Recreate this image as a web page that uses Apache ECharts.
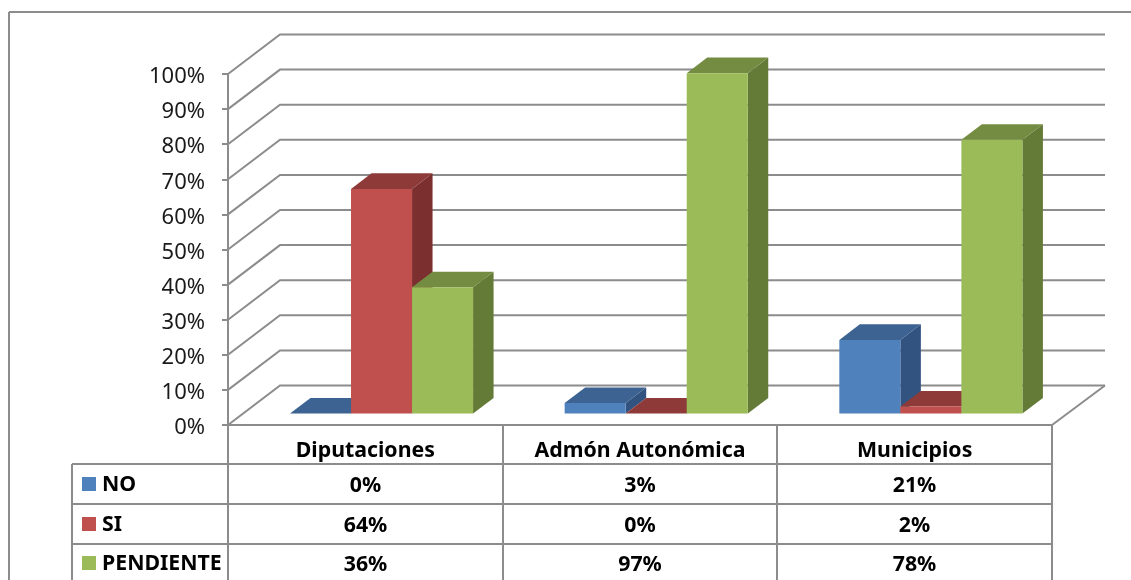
<!DOCTYPE html>
<html>
<head>
<meta charset="utf-8">
<style>html,body{margin:0;padding:0;background:#fff;overflow:hidden}#c{width:1131px;height:580px}</style>
<script src="https://cdn.jsdelivr.net/npm/echarts@6/dist/echarts.min.js"></script>
</head>
<body>
<div id="c"></div>
<script>
const categories = ['Diputaciones', 'Admón Autonómica', 'Municipios'];
const seriesNames = ['NO', 'SI', 'PENDIENTE'];
const NO = [0, 3, 21];
const SI = [64, 0, 2];
const PENDIENTE = [36, 97, 78];
const gridTicks = [0, 10, 20, 30, 40, 50, 60, 70, 80, 90, 100];

const allSeries = [NO, SI, PENDIENTE];
const frontColors = ['#4F81BD', '#C0504D', '#9BBB59'];
const topColors = ['#3C6391', '#8E3A38', '#738C42'];
const sideColors = ['#325280', '#7B2F2E', '#647A37'];

const FONT = '"Noto Sans", sans-serif';
const GRID_COLOR = '#8C8C8C';
const DEPTH_X = 52, DEPTH_Y = 39.5;
const BAR_FRONT_X = 16.2, BAR_FRONT_Y = 11.4;
const BAR_DEPTH_X = 20.5, BAR_DEPTH_Y = 15.6;
const GL = 228, GR = 1052, GT = 74, GB = 425;

const chart = echarts.init(document.getElementById('c'), null, {renderer: 'canvas'});

function gridRender(params, api) {
  const v = api.value(1);
  const p = api.coord([0, v]);
  const x0 = GL, y = p[1];
  const lineStyle = {stroke: GRID_COLOR, lineWidth: 2, fill: null};
  const children = [{
    type: 'polyline',
    shape: {points: [[x0, y], [x0 + DEPTH_X, y - DEPTH_Y], [GR + DEPTH_X + 1, y - DEPTH_Y]]},
    style: lineStyle
  }, {
    type: 'text',
    x: 205, y: y + 3,
    style: {text: v + '%', font: '22px ' + FONT, fill: '#1a1a1a', textAlign: 'right', textVerticalAlign: 'middle'}
  }];
  if (v === 0) {
    children.push({
      type: 'line',
      shape: {x1: GR, y1: y, x2: GR + DEPTH_X + 1, y2: y - DEPTH_Y},
      style: lineStyle
    });
  }
  return {type: 'group', children};
}

function barRender(si) {
  return function (params, api) {
    const cat = api.value(0), v = api.value(1);
    const c = api.coord([cat, v]);
    const c0 = api.coord([cat, 0]);
    const band = api.size([1, 0])[0];
    const w = band * 0.2222;
    const dx = BAR_DEPTH_X, dy = BAR_DEPTH_Y;
    const x = c[0] + BAR_FRONT_X + (si - 1.5) * w;
    const yT = c[1] - BAR_FRONT_Y, yB = c0[1] - BAR_FRONT_Y;
    return {
      type: 'group',
      children: [
        {type: 'polygon', shape: {points: [[x + w, yT], [x + w + dx, yT - dy], [x + w + dx, yB - dy], [x + w, yB]]}, style: {fill: sideColors[si]}},
        {type: 'polygon', shape: {points: [[x, yT], [x + dx, yT - dy], [x + w + dx, yT - dy], [x + w, yT]]}, style: {fill: topColors[si]}},
        {type: 'rect', shape: {x: x, y: yT, width: w, height: yB - yT}, style: {fill: frontColors[si]}}
      ]
    };
  };
}

const colX = [GL, 503, 777, GR];
const rowY = [464, 504, 544];
const rowCenter = [484, 524, 563];
const graphic = [];
const gl = (x1, y1, x2, y2) => graphic.push({
  type: 'line', shape: {x1, y1, x2, y2}, style: {stroke: GRID_COLOR, lineWidth: 2}, z: 5
});
gl(9, 12, 1131, 12);
gl(9, 12, 9, 580);
colX.forEach(x => gl(x, GB, x, 580));
gl(72, 464, 72, 580);
rowY.forEach(y => gl(72, y, GR, y));

seriesNames.forEach((name, r) => {
  graphic.push({type: 'rect', shape: {x: 82, y: rowCenter[r] - 7, width: 14, height: 14}, style: {fill: frontColors[r]}, z: 6});
  graphic.push({type: 'text', x: 102, y: rowCenter[r] + 1, style: {text: name, font: 'bold 21.3px ' + FONT, fill: '#000', textAlign: 'left', textVerticalAlign: 'middle'}, z: 6});
  allSeries[r].forEach((v, c) => {
    graphic.push({
      type: 'text', x: (colX[c] + colX[c + 1]) / 2, y: rowCenter[r] + 1.5,
      style: {text: v + '%', font: 'bold 21.3px ' + FONT, fill: '#000', textAlign: 'center', textVerticalAlign: 'middle'}, z: 6
    });
  });
});

const series = [{
  type: 'custom', name: 'grid', silent: true, clip: false, z: 1,
  renderItem: gridRender,
  encode: {x: 0, y: 1},
  data: gridTicks.map(t => [0, t])
}];
seriesNames.forEach((name, si) => {
  series.push({
    type: 'custom', name, silent: true, clip: false, z: 2 + si,
    renderItem: barRender(si),
    encode: {x: 0, y: 1},
    data: allSeries[si].map((v, i) => [i, v])
  });
});

chart.setOption({
  animation: false,
  backgroundColor: '#fff',
  textStyle: {fontFamily: FONT},
  grid: {left: GL, top: GT, width: GR - GL, height: GB - GT, containLabel: false},
  xAxis: {
    type: 'category', data: categories,
    axisLine: {show: true, lineStyle: {color: GRID_COLOR, width: 2}},
    axisTick: {show: false},
    axisLabel: {show: true, interval: 0, margin: 15, fontFamily: FONT, fontWeight: 'bold', fontSize: 21.3, color: '#000'},
    splitLine: {show: false}
  },
  yAxis: {
    type: 'value', min: 0, max: 100, interval: 10,
    axisLine: {show: true, lineStyle: {color: GRID_COLOR, width: 2}},
    axisTick: {show: true, length: 6, lineStyle: {color: GRID_COLOR, width: 2}},
    axisLabel: {show: false},
    splitLine: {show: false}
  },
  graphic: {elements: graphic},
  series
});
</script>
</body>
</html>
